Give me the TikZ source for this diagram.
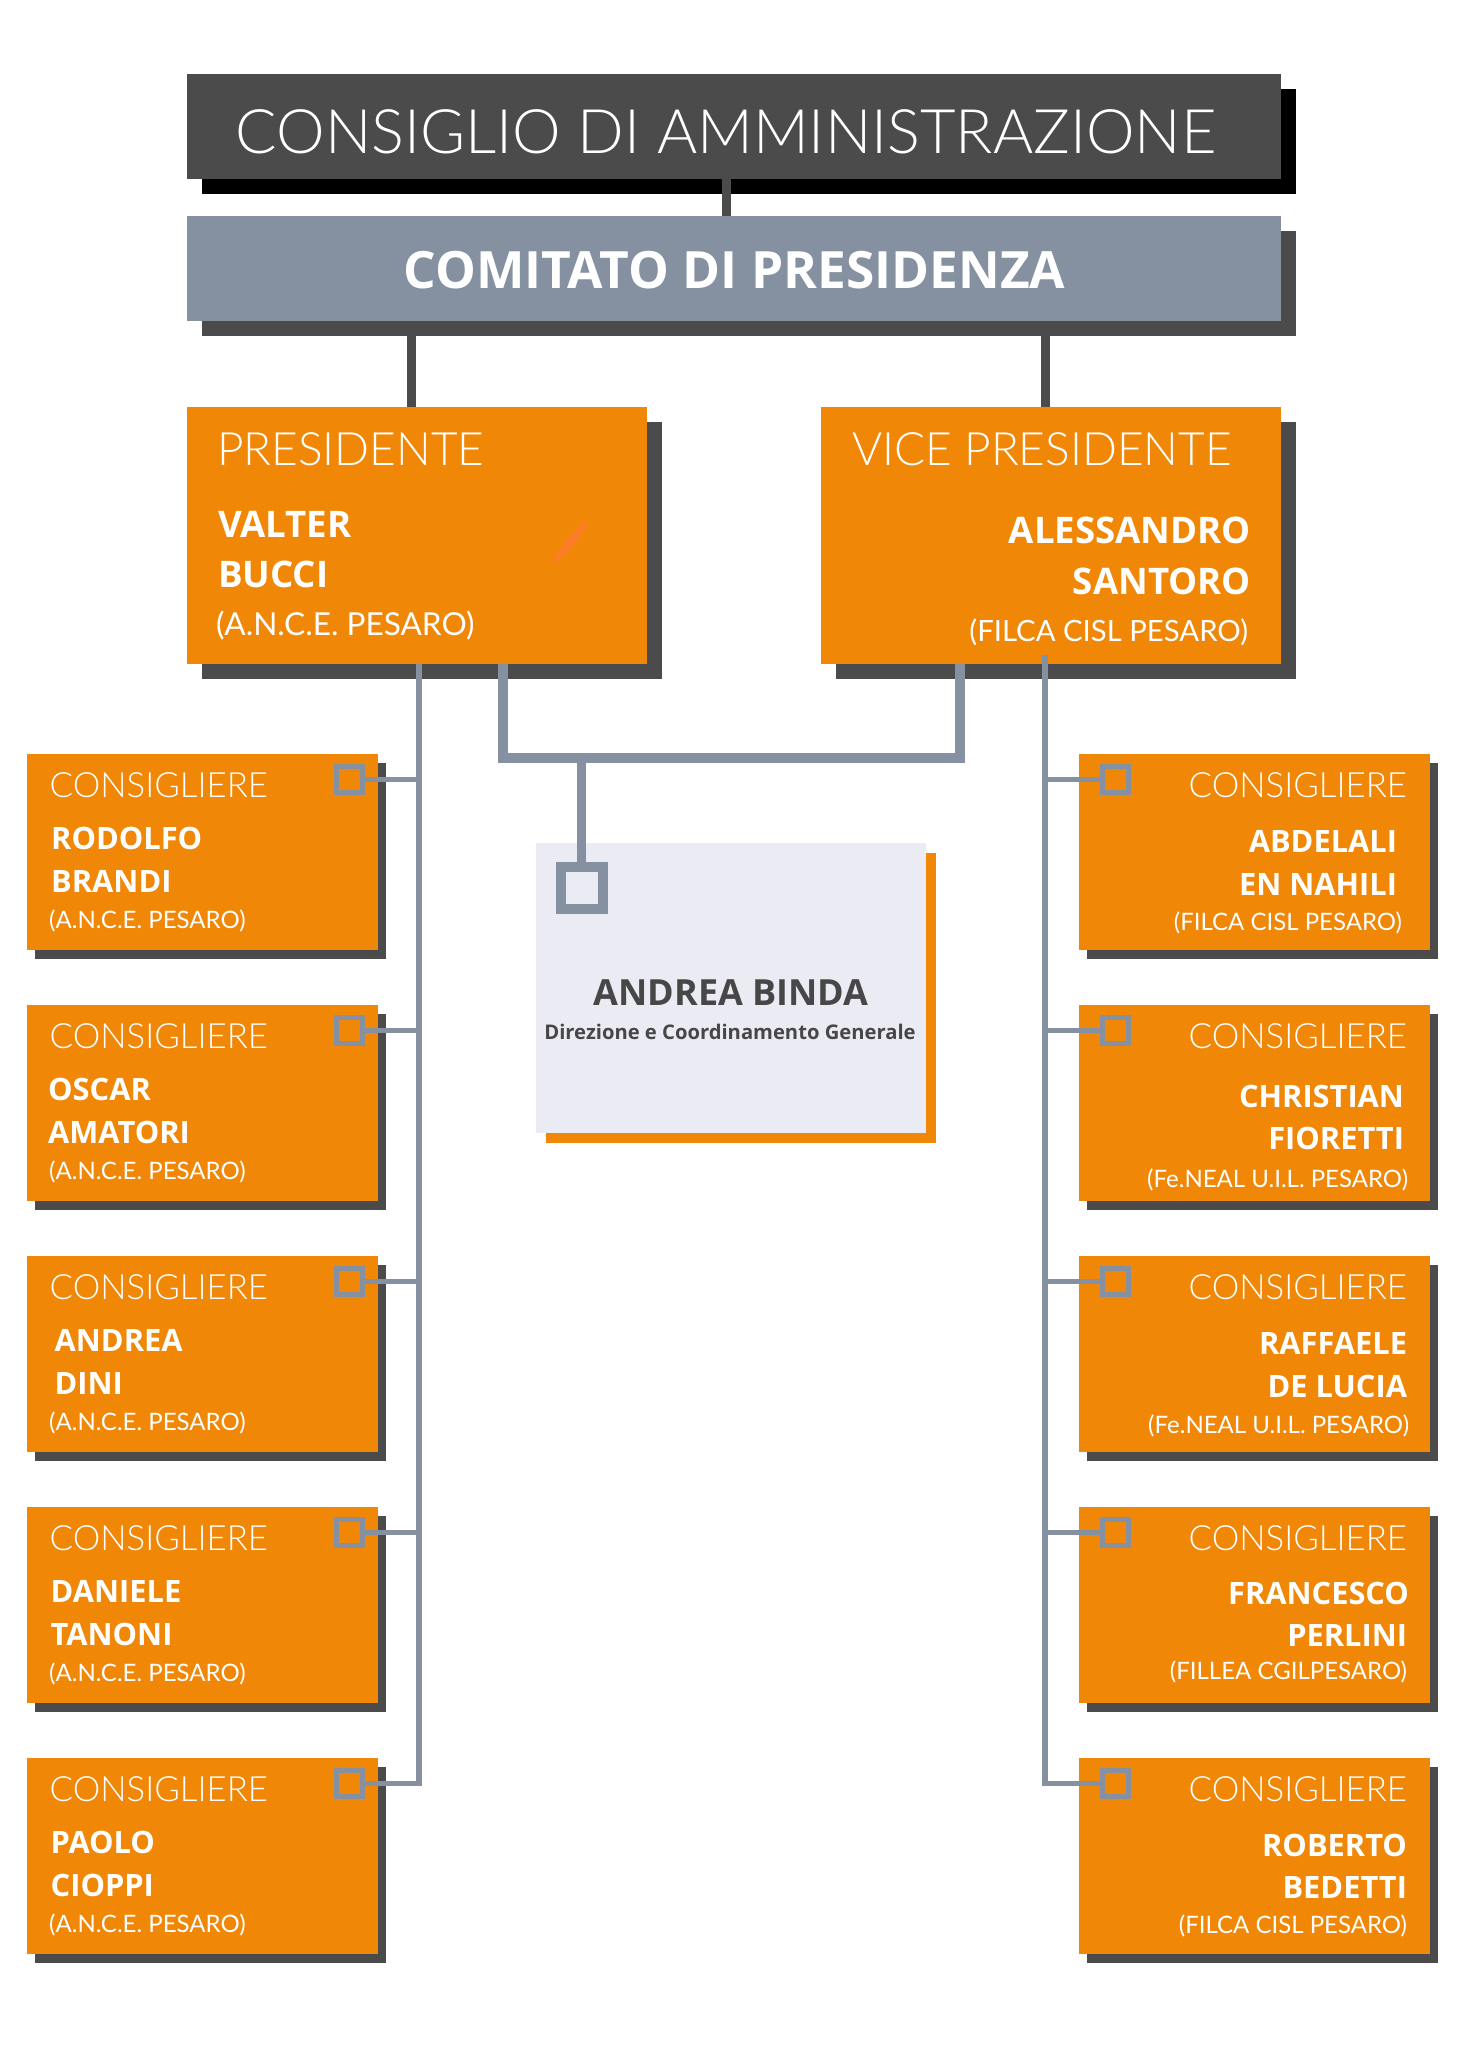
\documentclass[tikz,border=0pt]{standalone}
\usepackage{fontspec}
\setmainfont{Open Sans}
\newfontfamily\sottile{Lato Light}
\newfontfamily\ente{Lato}
\usepackage{tikz}
\usetikzlibrary{positioning}
\usetikzlibrary{shadows}

\definecolor{arancio}{HTML}{F08707}
\definecolor{grigio}{HTML}{4B4B4B}
\definecolor{ardesia}{HTML}{8591A1}
\definecolor{lilla}{HTML}{EBEBF3}
\definecolor{inchiostro}{HTML}{474747}
\definecolor{pennellata}{HTML}{FF7B2E}

\tikzstyle{box} = [rectangle,inner sep=0pt,outer sep=0pt,anchor=north west]
\tikzstyle{testa} = [box,minimum width=1094pt,minimum height=105pt]
\tikzstyle{carica} = [box,fill=arancio,minimum width=460pt,minimum height=257pt,general shadow={fill=grigio,shadow xshift=15pt,shadow yshift=-15pt}]
\tikzstyle{consbox} = [box,fill=arancio,minimum width=351pt,minimum height=196pt,general shadow={fill=grigio,shadow xshift=8.5pt,shadow yshift=-8.5pt}]
\tikzstyle{nodo} = [rectangle,draw=ardesia,line width=5pt,minimum size=26pt,inner sep=0pt,outer sep=0pt]
\tikzstyle{filo} = [draw=ardesia,line width=5.5pt]
\tikzstyle{nesso} = [draw=ardesia,line width=9.5pt]
\tikzstyle{asta} = [draw=grigio,line width=9pt]
\tikzstyle{scritta} = [inner sep=0pt,outer sep=0pt,text=white]
\tikzstyle{ruolo} = [scritta,font=\sottile\fontsize{34.8}{40}\selectfont]
\tikzstyle{nome} = [scritta,font=\bfseries\fontsize{30.8}{36}\selectfont]
\tikzstyle{sigla} = [scritta,font=\ente\fontsize{24}{28}\selectfont]
\tikzstyle{carruolo} = [scritta,font=\sottile\fontsize{46}{52}\selectfont]
\tikzstyle{carnome} = [scritta,font=\bfseries\fontsize{36.6}{42}\selectfont]
\tikzstyle{carsigla} = [scritta,font=\ente\fontsize{30.5}{36}\selectfont]

\begin{document}
\begin{tikzpicture}[x=1pt,y=-1pt]
	\useasboundingbox[fill=white] (0,0) rectangle (1458,2067);

	%Vertice
	\node[testa,fill=grigio,general shadow={fill=black,shadow xshift=15pt,shadow yshift=-15pt}] (cda) at (187,74) {};
	\node[scritta,anchor=base,font=\sottile\fontsize{61.4}{70}\selectfont] (cdat) at (726,153) {CONSIGLIO DI AMMINISTRAZIONE};

	\node[testa,fill=ardesia,general shadow={fill=grigio,shadow xshift=15pt,shadow yshift=-15pt}] (cdp) at (187,216) {};
	\node[scritta,anchor=base,font=\bfseries\fontsize{51.4}{60}\selectfont] (cdpt) at (734.5,288) {COMITATO DI PRESIDENZA};

	\node[carica] (pres) at (186.7,407) {};
	\fill[pennellata,opacity=0.85] (551,566) .. controls (560,545) and (575,528) .. (589,519) .. controls (584,536) and (568,553) .. cycle;
	\node[carruolo,anchor=base west] (presa) at (217,465) {PRESIDENTE};
	\node[carnome,anchor=base west] (presb) at (218,537) {VALTER};
	\node[carnome,anchor=base west] (presc) at (218,587) {BUCCI};
	\node[carsigla,anchor=base west,font=\ente\fontsize{31.6}{36}\selectfont] (presd) at (216,635) {(A.N.C.E. PESARO)};

	\node[carica] (vice) at (821,407) {};
	\node[carruolo,anchor=base west] (vicea) at (852,465) {VICE PRESIDENTE};
	\node[carnome,anchor=base east] (viceb) at (1251,543) {ALESSANDRO};
	\node[carnome,anchor=base east] (vicec) at (1251,594) {SANTORO};
	\node[carsigla,anchor=base east,font=\ente\fontsize{29.3}{34}\selectfont] (viced) at (1248,641) {(FILCA CISL PESARO)};

	%Consiglieri a sinistra
	\node[consbox] (c1) at (26.7,754) {};
	\node[consbox,below=55pt of c1] (c2) {};
	\node[consbox,below=55pt of c2] (c3) {};
	\node[consbox,below=55pt of c3] (c4) {};
	\node[consbox,below=55pt of c4] (c5) {};

	\node[ruolo,anchor=base west] (c1a) at ([xshift=23pt,yshift=-43pt]c1.north west) {CONSIGLIERE};
	\node[nome,anchor=base west] (c1b) at ([xshift=24.5pt,yshift=-95.5pt]c1.north west) {RODOLFO};
	\node[nome,anchor=base west] (c1c) at ([xshift=24.5pt,yshift=-138pt]c1.north west) {BRANDI};
	\node[sigla,anchor=base west] (c1d) at ([xshift=22.5pt,yshift=-174pt]c1.north west) {(A.N.C.E. PESARO)};

	\node[ruolo,anchor=base west] (c2a) at ([xshift=23pt,yshift=-43pt]c2.north west) {CONSIGLIERE};
	\node[nome,anchor=base west] (c2b) at ([xshift=21.5pt,yshift=-95.5pt]c2.north west) {OSCAR};
	\node[nome,anchor=base west] (c2c) at ([xshift=21.5pt,yshift=-138pt]c2.north west) {AMATORI};
	\node[sigla,anchor=base west] (c2d) at ([xshift=22.5pt,yshift=-174pt]c2.north west) {(A.N.C.E. PESARO)};

	\node[ruolo,anchor=base west] (c3a) at ([xshift=23pt,yshift=-43pt]c3.north west) {CONSIGLIERE};
	\node[nome,anchor=base west] (c3b) at ([xshift=28pt,yshift=-95.5pt]c3.north west) {ANDREA};
	\node[nome,anchor=base west] (c3c) at ([xshift=28pt,yshift=-138pt]c3.north west) {DINI};
	\node[sigla,anchor=base west] (c3d) at ([xshift=22.5pt,yshift=-174pt]c3.north west) {(A.N.C.E. PESARO)};

	\node[ruolo,anchor=base west] (c4a) at ([xshift=23pt,yshift=-43pt]c4.north west) {CONSIGLIERE};
	\node[nome,anchor=base west] (c4b) at ([xshift=24pt,yshift=-95.5pt]c4.north west) {DANIELE};
	\node[nome,anchor=base west] (c4c) at ([xshift=24pt,yshift=-138pt]c4.north west) {TANONI};
	\node[sigla,anchor=base west] (c4d) at ([xshift=22.5pt,yshift=-174pt]c4.north west) {(A.N.C.E. PESARO)};

	\node[ruolo,anchor=base west] (c5a) at ([xshift=23pt,yshift=-43pt]c5.north west) {CONSIGLIERE};
	\node[nome,anchor=base west] (c5b) at ([xshift=24pt,yshift=-95.5pt]c5.north west) {PAOLO};
	\node[nome,anchor=base west] (c5c) at ([xshift=24pt,yshift=-138pt]c5.north west) {CIOPPI};
	\node[sigla,anchor=base west] (c5d) at ([xshift=22.5pt,yshift=-174pt]c5.north west) {(A.N.C.E. PESARO)};

	%Consiglieri a destra
	\node[consbox] (c6) at (1078.7,754) {};
	\node[consbox,below=55pt of c6] (c7) {};
	\node[consbox,below=55pt of c7] (c8) {};
	\node[consbox,below=55pt of c8] (c9) {};
	\node[consbox,below=55pt of c9] (c10) {};

	\node[ruolo,anchor=base east] (c6a) at ([xshift=-22.7pt,yshift=-43pt]c6.north east) {CONSIGLIERE};
	\node[nome,anchor=base east] (c6b) at ([xshift=-32.7pt,yshift=-98pt]c6.north east) {ABDELALI};
	\node[nome,anchor=base east] (c6c) at ([xshift=-32.7pt,yshift=-141pt]c6.north east) {EN NAHILI};
	\node[sigla,anchor=base east] (c6d) at ([xshift=-27.7pt,yshift=-176pt]c6.north east) {(FILCA CISL PESARO)};

	\node[ruolo,anchor=base east] (c7a) at ([xshift=-22.7pt,yshift=-43pt]c7.north east) {CONSIGLIERE};
	\node[nome,anchor=base east] (c7b) at ([xshift=-25.7pt,yshift=-102pt]c7.north east) {CHRISTIAN};
	\node[nome,anchor=base east] (c7c) at ([xshift=-25.7pt,yshift=-144pt]c7.north east) {FIORETTI};
	\node[sigla,anchor=base east] (c7d) at ([xshift=-21.7pt,yshift=-182pt]c7.north east) {(Fe.NEAL U.I.L. PESARO)};

	\node[ruolo,anchor=base east] (c8a) at ([xshift=-22.7pt,yshift=-43pt]c8.north east) {CONSIGLIERE};
	\node[nome,anchor=base east] (c8b) at ([xshift=-22.7pt,yshift=-98pt]c8.north east) {RAFFAELE};
	\node[nome,anchor=base east] (c8c) at ([xshift=-22.7pt,yshift=-141pt]c8.north east) {DE LUCIA};
	\node[sigla,anchor=base east] (c8d) at ([xshift=-20.7pt,yshift=-177pt]c8.north east) {(Fe.NEAL U.I.L. PESARO)};

	\node[ruolo,anchor=base east] (c9a) at ([xshift=-22.7pt,yshift=-43pt]c9.north east) {CONSIGLIERE};
	\node[nome,anchor=base east] (c9b) at ([xshift=-20.7pt,yshift=-97pt]c9.north east) {FRANCESCO};
	\node[nome,anchor=base east] (c9c) at ([xshift=-22.7pt,yshift=-139pt]c9.north east) {PERLINI};
	\node[sigla,anchor=base east] (c9d) at ([xshift=-22.7pt,yshift=-172pt]c9.north east) {(FILLEA CGILPESARO)};

	\node[ruolo,anchor=base east] (c10a) at ([xshift=-22.7pt,yshift=-43pt]c10.north east) {CONSIGLIERE};
	\node[nome,anchor=base east] (c10b) at ([xshift=-22.7pt,yshift=-98pt]c10.north east) {ROBERTO};
	\node[nome,anchor=base east] (c10c) at ([xshift=-22.7pt,yshift=-140pt]c10.north east) {BEDETTI};
	\node[sigla,anchor=base east] (c10d) at ([xshift=-22.7pt,yshift=-175pt]c10.north east) {(FILCA CISL PESARO)};

	%Direzione
	\node[box,fill=lilla,minimum width=390pt,minimum height=290pt,general shadow={fill=arancio,shadow xshift=10pt,shadow yshift=-10pt}] (bnd) at (535.7,843) {};
	\node[scritta,anchor=base,text=inchiostro,font=\bfseries\fontsize{36}{42}\selectfont] (bnda) at (731,1005.7) {ANDREA BINDA};
	\node[scritta,anchor=base,text=inchiostro,font=\bfseries\fontsize{20.2}{24}\selectfont] (bndb) at (730,1039) {Direzione e Coordinamento Generale};

	%Agganci
	\node[nodo] (s1) at ([xshift=-28.7pt,yshift=-25.5pt]c1.north east) {};
	\node[nodo] (s2) at ([xshift=-28.7pt,yshift=-25.5pt]c2.north east) {};
	\node[nodo] (s3) at ([xshift=-28.7pt,yshift=-25.5pt]c3.north east) {};
	\node[nodo] (s4) at ([xshift=-28.7pt,yshift=-25.5pt]c4.north east) {};
	\node[nodo] (s5) at ([xshift=-28.7pt,yshift=-25.5pt]c5.north east) {};
	\node[nodo] (s6) at ([xshift=37pt,yshift=-25.5pt]c6.north west) {};
	\node[nodo] (s7) at ([xshift=37pt,yshift=-25.5pt]c7.north west) {};
	\node[nodo] (s8) at ([xshift=37pt,yshift=-25.5pt]c8.north west) {};
	\node[nodo] (s9) at ([xshift=37pt,yshift=-25.5pt]c9.north west) {};
	\node[nodo] (s10) at ([xshift=37pt,yshift=-25.5pt]c10.north west) {};
	\node[nodo,line width=10pt,minimum size=42pt] (bsq) at (581.5,888) {};

	%Lines
	\coordinate (ct) at (726,178);
	\coordinate (pt) at (411,321);
	\coordinate (vt) at (1045,321);
	\draw[asta] (ct) -- (ct |- cdp.north);
	\draw[asta] (pt) -- (pt |- pres.north);
	\draw[asta] (vt) -- (vt |- vice.north);

	\coordinate (lt) at (419,664);
	\coordinate (rt) at (1045,655);
	\draw[filo] (lt) |- (s5.east);
	\draw[filo] (s1.east) -- (s1.east -| lt);
	\draw[filo] (s2.east) -- (s2.east -| lt);
	\draw[filo] (s3.east) -- (s3.east -| lt);
	\draw[filo] (s4.east) -- (s4.east -| lt);
	\draw[filo] (rt) |- (s10.west);
	\draw[filo] (s6.west) -- (s6.west -| rt);
	\draw[filo] (s7.west) -- (s7.west -| rt);
	\draw[filo] (s8.west) -- (s8.west -| rt);
	\draw[filo] (s9.west) -- (s9.west -| rt);

	\coordinate (pb) at (503,664);
	\coordinate (vb) at (960,664);
	\coordinate (bj) at (581.5,758);
	\draw[nesso] (pb) -- ++(0,94) -| (vb);
	\draw[nesso] (bj) -- (bsq.north);
\end{tikzpicture}
\end{document}
